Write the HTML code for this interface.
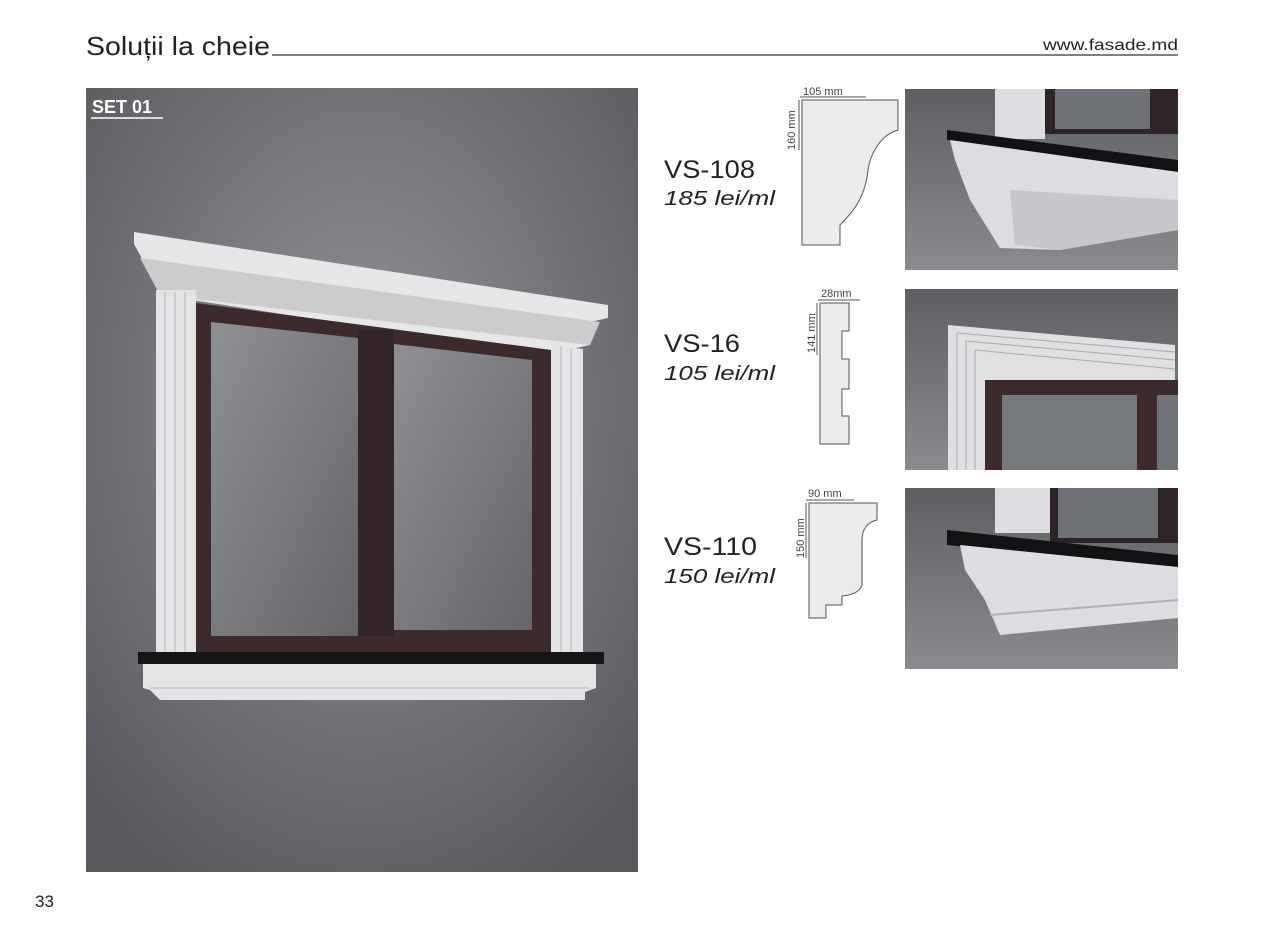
<!DOCTYPE html>
<html><head><meta charset="utf-8"><style>
body{margin:0;background:#fff;}
svg{display:block}
</style></head><body>
<svg width="1262" height="944" viewBox="0 0 1262 944" xmlns="http://www.w3.org/2000/svg" font-family="Liberation Sans, sans-serif">
<defs>
<radialGradient id="bg" cx="0.5" cy="0.4" r="0.7">
<stop offset="0" stop-color="#939497"/><stop offset="1" stop-color="#595a5e"/></radialGradient>
<linearGradient id="ph" x1="0" y1="0" x2="0" y2="1"><stop offset="0" stop-color="#5e5f62"/><stop offset="1" stop-color="#8a8b8e"/></linearGradient>
<linearGradient id="gl" x1="0" y1="0" x2="1" y2="1"><stop offset="0" stop-color="#8e9094"/><stop offset="1" stop-color="#64666a"/></linearGradient>
</defs>
<text x="86" y="55" font-size="26" fill="#222" textLength="184" lengthAdjust="spacingAndGlyphs">Soluții la cheie</text>
<line x1="272" y1="55" x2="1178" y2="55" stroke="#333" stroke-width="1.2"/>
<text x="1043" y="50" font-size="16" fill="#222" textLength="135" lengthAdjust="spacingAndGlyphs">www.fasade.md</text>
<text x="35" y="907" font-size="17" fill="#222">33</text>

<rect x="86" y="88" width="552" height="784" fill="url(#bg)"/>
<text x="92" y="113" font-size="18" font-weight="bold" fill="#fff">SET 01</text>
<line x1="91" y1="118" x2="163" y2="118" stroke="#fff" stroke-width="1.5"/>
<!-- cornice -->
<polygon points="134,232 608,305 608,318 590,322 590,345 545,355 160,295 140,255 134,244" fill="#e6e7e9"/>
<polygon points="140,258 600,322 590,345 160,295" fill="#cbccce"/>
<!-- pilasters -->
<rect x="156" y="290" width="40" height="365" fill="#e3e4e6"/>
<g stroke="#b5b6b9"><line x1="165" y1="292" x2="165" y2="655"/><line x1="175" y1="292" x2="175" y2="655"/><line x1="185" y1="292" x2="185" y2="655"/></g>
<polygon points="551,345 583,349 583,655 551,655" fill="#e3e4e6"/>
<g stroke="#b5b6b9"><line x1="561" y1="346" x2="561" y2="655"/><line x1="571" y1="348" x2="571" y2="655"/></g>
<!-- window -->
<polygon points="196,303 551,350 551,655 196,655" fill="#3c2a2d"/>
<polygon points="211,322 358,338 358,636 211,636" fill="url(#gl)"/>
<polygon points="394,344 532,360 532,630 394,630" fill="url(#gl)"/>
<rect x="358" y="330" width="36" height="306" fill="#33242a"/>
<!-- sill -->
<rect x="138" y="652" width="466" height="12" fill="#151517"/>
<polygon points="143,664 596,664 596,688 585,692 585,700 160,700 150,690 143,688" fill="#e4e5e7"/>
<line x1="150" y1="688" x2="590" y2="688" stroke="#b8b9bc"/>

<!-- labels -->
<text x="664" y="178" font-size="25" fill="#222" textLength="91" lengthAdjust="spacingAndGlyphs">VS-108</text>
<text x="664" y="205" font-size="20" font-style="italic" fill="#222" textLength="111" lengthAdjust="spacingAndGlyphs">185 lei/ml</text>
<text x="664" y="352" font-size="25" fill="#222" textLength="76" lengthAdjust="spacingAndGlyphs">VS-16</text>
<text x="664" y="380" font-size="20" font-style="italic" fill="#222" textLength="111" lengthAdjust="spacingAndGlyphs">105 lei/ml</text>
<text x="664" y="555" font-size="25" fill="#222" textLength="93" lengthAdjust="spacingAndGlyphs">VS-110</text>
<text x="664" y="583" font-size="20" font-style="italic" fill="#222" textLength="111" lengthAdjust="spacingAndGlyphs">150 lei/ml</text>

<!-- profiles -->
<g fill="#ececec" stroke="#555" stroke-width="1">
<path d="M802,100 L898,100 L898,130 C880,135 870,155 868,170 C865,200 850,215 840,225 L840,245 L802,245 Z"/>
<path d="M820,303 L849,303 L849,331 L842,331 L842,359 L849,359 L849,389 L842,389 L842,416 L849,416 L849,444 L820,444 Z"/>
<path d="M809,503 L877,503 L877,520 C867,522 862,530 862,540 L862,585 C860,592 852,595 842,596 L842,605 L826,605 L826,618 L809,618 Z"/>
</g>
<g font-size="11" fill="#444">
<text x="803" y="95">105 mm</text><line x1="800" y1="97" x2="866" y2="97" stroke="#555"/>
<text x="795" y="150" transform="rotate(-90 795 150)">160 mm</text><line x1="799" y1="100" x2="799" y2="150" stroke="#555"/>
<text x="821" y="297">28mm</text><line x1="818" y1="300" x2="860" y2="300" stroke="#555"/>
<text x="815" y="353" transform="rotate(-90 815 353)">141 mm</text><line x1="817" y1="303" x2="817" y2="355" stroke="#555"/>
<text x="808" y="497">90 mm</text><line x1="806" y1="500" x2="854" y2="500" stroke="#555"/>
<text x="804" y="558" transform="rotate(-90 804 558)">150 mm</text><line x1="806" y1="503" x2="806" y2="558" stroke="#555"/>
</g>

<!-- photos -->
<rect x="905" y="89" width="273" height="181" fill="url(#ph)"/>
<rect x="995" y="89" width="50" height="50" fill="#dcdde0"/><rect x="1045" y="89" width="133" height="45" fill="#2f2528"/><rect x="1055" y="89" width="95" height="40" fill="#6f7276"/>
<polygon points="947,130 1178,160 1178,172 947,140" fill="#121214"/>
<polygon points="950,140 1178,172 1178,230 1060,250 1000,248 970,200 955,160" fill="#dcdde0"/>
<polygon points="1010,190 1178,200 1178,230 1060,250 1015,245" fill="#c6c7ca"/>

<rect x="905" y="289" width="273" height="181" fill="url(#ph)"/>
<polygon points="948,325 1175,345 1175,380 985,380 985,470 948,470" fill="#dfe0e2"/>
<g stroke="#a9aaad" fill="none"><path d="M957,470 V333 L1175,352"/><path d="M966,470 V341 L1175,360"/><path d="M975,470 V350 L1175,369"/></g>
<rect x="985" y="380" width="193" height="90" fill="#3c2a2d"/><rect x="1002" y="395" width="135" height="75" fill="#767a7e"/><rect x="1157" y="395" width="21" height="75" fill="#707377"/>

<rect x="905" y="488" width="273" height="181" fill="url(#ph)"/>
<rect x="995" y="488" width="55" height="45" fill="#dcdde0"/><rect x="1050" y="488" width="128" height="55" fill="#2f2528"/><rect x="1058" y="488" width="100" height="50" fill="#6f7276"/>
<polygon points="947,530 1178,555 1178,567 947,545" fill="#121214"/>
<polygon points="960,545 1178,567 1178,618 1000,635 985,600 965,570" fill="#dcdde0"/>
<line x1="990" y1="615" x2="1178" y2="600" stroke="#b0b1b4" stroke-width="2"/>
</svg>
</body></html>
